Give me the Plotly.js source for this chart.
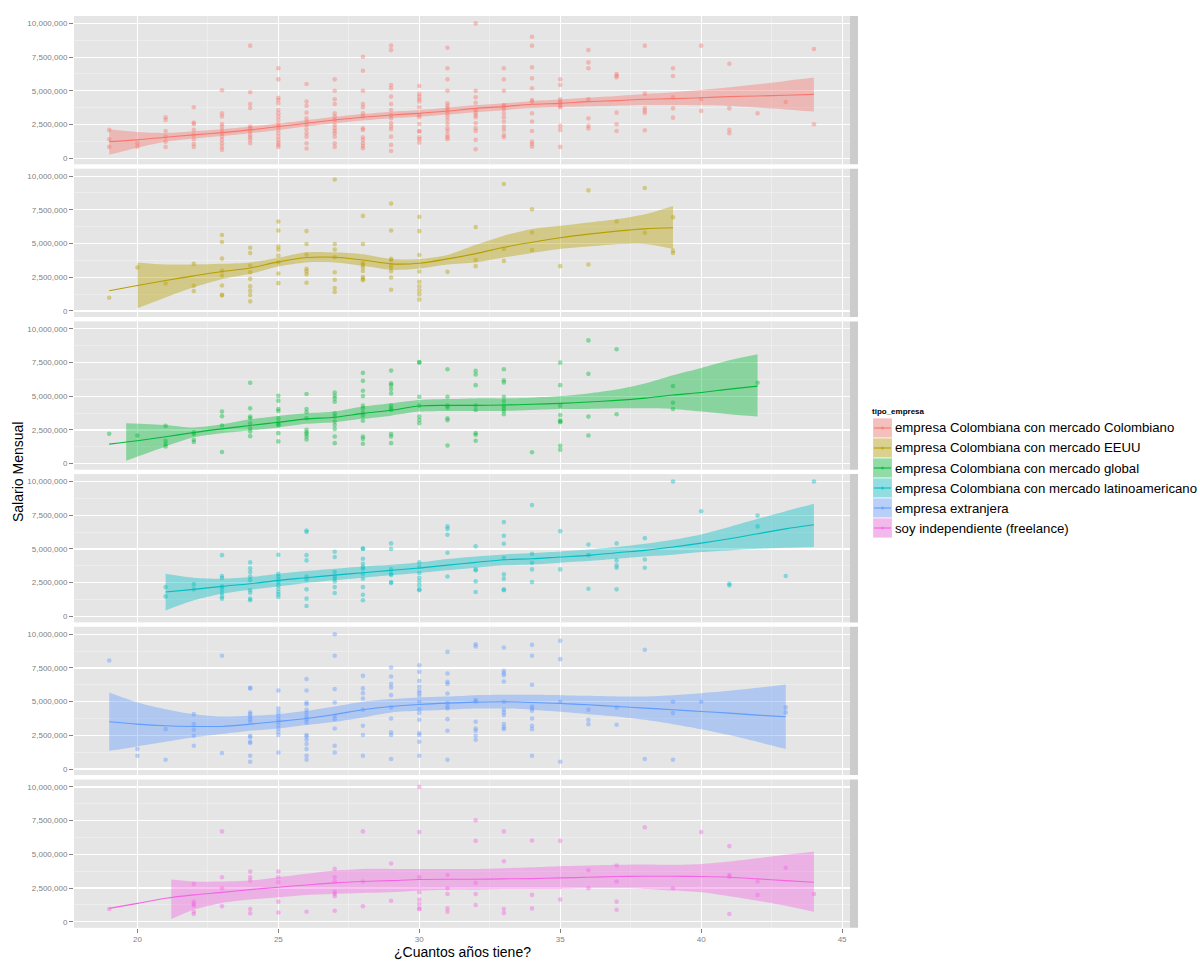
<!DOCTYPE html>
<html>
<head>
<meta charset="utf-8">
<script src="https://cdn.plot.ly/plotly-3.0.1.min.js"></script>
<style>
  html, body { margin: 0; padding: 0; background: #fff; }
  #chart { width: 1200px; height: 967px; }
</style>
</head>
<body>
<div id="chart"></div>
<script>
// salaries in millions of pesos, read per age column
const tipoEmpresa = [
  "empresa Colombiana con mercado Colombiano",
  "empresa Colombiana con mercado EEUU",
  "empresa Colombiana con mercado global",
  "empresa Colombiana con mercado latinoamericano",
  "empresa extranjera",
  "soy independiente (freelance)",
];
const hueColors = ["#F8766D", "#B79F00", "#00BA38", "#00BFC4", "#619CFF", "#F564E3"];

const colombianoPts = [
  [19, [2.1, 1.41, 0.84]],
  [20, [1.1, 0.86]],
  [21, [3.04, 2.84, 2.02, 1.6, 1.23, 0.84]],
  [22, [3.78, 2.64, 2.54, 2.1, 1.73, 1.41, 1.06, 0.84]],
  [23, [5.04, 3.33, 3.09, 2.54, 2.35, 2.1, 1.85, 1.6, 1.36, 1.11, 0.86, 0.62]],
  [24, [8.35, 4.89, 4.02, 3.73, 2.35, 2.22, 1.98, 1.73, 1.56, 1.36, 1.11]],
  [25, [6.67, 5.85, 4.49, 4.32, 4.07, 3.58, 3.33, 3.09, 2.84, 2.54, 2.35, 2.1, 1.85, 1.6, 1.36, 1.16, 0.99, 0.84]],
  [26, [5.51, 4.2, 3.88, 3.38, 2.96, 2.72, 2.47, 2.15, 1.85, 1.6, 1.11, 0.72]],
  [27, [5.85, 5.01, 4.37, 4.02, 3.33, 3.09, 2.84, 2.47, 2.22, 2.02, 1.85, 1.6, 1.11, 0.84]],
  [28, [7.53, 6.49, 5.01, 4.02, 3.78, 3.33, 3.09, 2.22, 2.1, 1.56, 1.36, 1.11, 0.91, 0.74]],
  [29, [8.35, 8.02, 5.43, 5.19, 4.57, 4.02, 3.58, 3.21, 2.96, 2.59, 2.35, 2.15, 1.6, 0.99, 0.54]],
  [30, [5.36, 4.77, 4.57, 4.37, 4.2, 3.78, 3.21, 3.04, 2.54, 2.02, 1.98, 1.56, 1.41, 1.16]],
  [31, [8.2, 6.67, 5.85, 5.01, 4.07, 3.88, 3.7, 3.53, 3.33, 3.09, 2.84, 2.54, 2.22, 2.02, 1.73, 1.56, 1.41]],
  [32, [10.0, 5.01, 4.52, 4.12, 3.58, 3.38, 3.21, 3.04, 2.59, 2.22, 2.02, 1.36, 0.67]],
  [33, [6.67, 5.85, 5.01, 3.95, 3.83, 3.63, 3.33, 3.04, 2.72, 2.35, 2.1, 1.73, 1.56]],
  [34, [9.01, 8.35, 6.74, 5.93, 5.19, 4.32, 4.2, 3.33, 2.72, 2.02, 1.23, 1.06, 0.86]],
  [35, [5.85, 5.43, 4.37, 4.2, 4.07, 3.88, 3.78, 2.4, 2.1, 0.84]],
  [36, [8.02, 7.11, 6.67, 4.37, 2.96, 2.4, 2.2]],
  [37, [6.25, 6.12, 6.0, 3.38, 2.52, 2.02]],
  [38, [8.35, 4.79, 3.7, 3.53, 3.36, 2.07]],
  [39, [6.67, 6.1, 4.52, 3.7, 3.01]],
  [40, [8.35, 4.37, 3.51]],
  [41, [7.01, 3.7, 2.1, 1.85]],
  [42, [3.33]],
  [43, [4.17]],
  [44, [8.1, 2.52]],
];
const colombianoFitAges = [19, 20, 21, 22, 23, 24, 25, 26, 27, 28, 29, 30, 31, 32, 33, 34, 35, 36, 37, 38, 39, 40, 41, 42, 43, 44];
const colombianoFit = [1.23, 1.36, 1.56, 1.73, 1.9, 2.1, 2.35, 2.59, 2.84, 3.04, 3.21, 3.33, 3.5, 3.7, 3.83, 4.0, 4.07, 4.2, 4.27, 4.37, 4.42, 4.49, 4.57, 4.62, 4.67, 4.74];
const colombianoBandAges = colombianoFitAges;
const colombianoHi = [2.15, 1.95, 1.88, 2.0, 2.15, 2.35, 2.58, 2.82, 3.07, 3.28, 3.45, 3.58, 3.75, 3.94, 4.08, 4.25, 4.35, 4.5, 4.62, 4.77, 4.9, 5.06, 5.26, 5.48, 5.73, 5.98];
const colombianoLo = [0.25, 0.78, 1.22, 1.46, 1.65, 1.86, 2.1, 2.36, 2.6, 2.8, 2.97, 3.08, 3.24, 3.42, 3.56, 3.72, 3.8, 3.86, 3.9, 3.95, 3.95, 3.93, 3.88, 3.77, 3.62, 3.46];

const eeuuPts = [
  [19, [0.98]],
  [20, [3.22]],
  [21, [2.04]],
  [22, [3.49, 1.87, 1.47]],
  [23, [5.63, 5.11, 3.88, 2.97, 2.63, 1.89, 1.2, 1.15]],
  [24, [4.69, 4.3, 3.37, 2.87, 2.38, 1.82, 1.5, 1.18, 0.71]],
  [25, [6.63, 5.97, 4.77, 4.55, 4.1, 3.61, 2.78, 2.06]],
  [26, [5.92, 4.96, 4.18, 3.12, 2.95, 2.73, 2.09]],
  [27, [9.75, 4.96, 4.55, 3.98, 2.87, 2.31, 1.7, 1.4]],
  [28, [7.05, 4.96, 3.56, 3.42, 3.24, 2.97, 2.51, 2.38, 2.28]],
  [29, [7.96, 5.97, 3.86, 3.76, 3.39, 3.19, 2.95, 2.48, 1.57]],
  [30, [6.98, 5.92, 4.15, 2.92, 2.16, 1.82, 1.52, 1.23, 0.84]],
  [31, [2.9]],
  [32, [6.22, 3.78, 3.32]],
  [33, [9.41, 4.59, 3.71]],
  [34, [7.54, 5.82, 4.52]],
  [35, [3.32]],
  [36, [8.94, 3.44]],
  [37, [6.63]],
  [38, [9.12, 5.8]],
  [39, [6.95, 4.47, 4.3]],
];
const eeuuFitAges = [19, 20, 21, 22, 23, 24, 25, 26, 27, 28, 29, 30, 31, 32, 33, 34, 35, 36, 37, 38, 39];
const eeuuFit = [1.5, 1.89, 2.26, 2.6, 2.92, 3.19, 3.64, 3.96, 3.98, 3.78, 3.49, 3.54, 3.86, 4.25, 4.72, 5.09, 5.43, 5.7, 5.92, 6.09, 6.17];
const eeuuBandAges = [20, 21, 22, 23, 24, 25, 26, 27, 28, 29, 30, 31, 32, 33, 34, 35, 36, 37, 38, 39];
const eeuuHi = [3.6, 3.45, 3.45, 3.5, 3.6, 3.95, 4.35, 4.35, 4.2, 3.85, 3.85, 4.15, 4.9, 5.58, 6.07, 6.31, 6.56, 6.8, 7.17, 7.79];
const eeuuLo = [0.2, 1.0, 1.75, 2.35, 2.75, 3.3, 3.6, 3.6, 3.35, 3.05, 3.15, 3.45, 3.6, 3.96, 4.3, 4.59, 4.77, 4.94, 4.96, 4.59];

const globalPts = [
  [19, [2.21]],
  [20, [2.09]],
  [21, [2.8, 1.7, 1.45, 1.28]],
  [22, [2.33, 2.19, 1.77, 1.6]],
  [23, [3.86, 3.51, 2.83, 0.86]],
  [24, [6.0, 4.1, 3.49, 3.37, 3.0, 2.63, 2.38, 2.04]],
  [25, [5.04, 4.67, 4.05, 3.9, 3.37, 3.07, 2.92, 2.83, 2.26, 1.65]],
  [26, [5.16, 4.05, 3.81, 3.37, 2.51, 2.33, 2.19, 2.01, 1.79]],
  [27, [5.28, 5.04, 4.84, 4.59, 3.73, 3.49, 3.12, 2.87, 2.56, 2.01, 1.52]],
  [28, [6.73, 6.14, 5.41, 5.01, 4.3, 4.1, 3.78, 3.56, 3.19, 2.01, 1.84, 1.47]],
  [29, [6.9, 5.95, 5.82, 5.53, 5.21, 4.3, 4.1, 3.98, 2.19, 2.01, 1.52]],
  [30, [7.54, 7.49, 4.96, 4.3, 3.49, 3.24, 3.0]],
  [31, [7.0, 4.96, 4.3, 4.15, 3.37, 3.22, 1.35]],
  [32, [6.88, 6.61, 5.82, 4.3, 3.98, 2.26, 2.14, 1.7]],
  [33, [7.0, 6.19, 6.02, 4.96, 4.64, 4.3, 4.1, 3.91, 3.66]],
  [34, [0.84]],
  [35, [7.49, 5.82, 4.3, 3.61, 3.22, 3.12, 3.07, 1.33, 1.03]],
  [36, [9.14, 6.66, 3.49, 2.09]],
  [37, [8.48, 3.66]],
  [39, [5.75, 4.52, 4.05]],
  [42, [6.0]],
];
const globalFitAges = [19, 20, 21, 22, 23, 24, 25, 26, 27, 28, 29, 30, 31, 32, 33, 34, 35, 36, 37, 38, 39, 40, 41, 42];
const globalFit = [1.45, 1.7, 1.99, 2.31, 2.58, 2.83, 3.07, 3.32, 3.44, 3.73, 3.96, 4.28, 4.32, 4.32, 4.35, 4.4, 4.47, 4.57, 4.69, 4.86, 5.09, 5.28, 5.53, 5.75];
const globalBandAges = [19.6, 21, 22, 23, 24, 25, 26, 27, 28, 29, 30, 31, 32, 33, 34, 35, 36, 37, 38, 39, 40, 41, 42];
const globalHi = [3.0, 2.87, 2.68, 2.92, 3.29, 3.54, 3.73, 3.86, 4.23, 4.47, 4.72, 4.79, 4.84, 4.84, 4.89, 5.01, 5.21, 5.5, 5.95, 6.56, 7.1, 7.67, 8.11];
const globalLo = [0.22, 1.28, 1.95, 2.25, 2.45, 2.68, 2.95, 3.07, 3.32, 3.56, 3.86, 3.91, 3.91, 3.91, 3.98, 4.05, 4.05, 4.1, 4.1, 4.05, 3.86, 3.66, 3.49];

const latinoPts = [
  [21, [2.17, 1.48]],
  [22, [2.37, 2.0]],
  [23, [4.54, 2.99, 2.84, 2.22, 2.0, 1.73, 1.48, 1.31]],
  [24, [4.0, 3.56, 3.28, 2.96, 2.67, 1.93, 1.75, 1.31, 1.19]],
  [25, [4.57, 3.16, 2.96, 2.74, 2.54, 2.3, 2.05, 1.8, 1.63, 1.43]],
  [26, [6.37, 6.25, 4.54, 4.15, 2.96, 2.74, 2.0, 1.31, 0.77]],
  [27, [4.79, 4.4, 3.28, 2.96, 2.79, 2.59, 2.17, 1.73]],
  [28, [5.04, 4.99, 4.27, 3.9, 3.65, 3.53, 3.16, 2.79, 2.17, 1.6, 1.19]],
  [29, [5.41, 4.99, 3.48, 3.16, 3.06, 2.54, 2.47]],
  [30, [4.0, 3.65, 3.21, 2.86, 2.59, 2.3, 2.0, 1.93]],
  [31, [6.67, 6.49, 6.05, 4.72, 2.96]],
  [32, [5.19, 3.48, 3.41, 2.59, 1.8]],
  [33, [6.99, 5.98, 5.38, 4.35, 3.11, 2.79, 2.0, 1.93]],
  [34, [8.25, 4.64, 3.98, 3.48, 2.54]],
  [35, [6.32, 3.48]],
  [36, [5.33, 4.54, 2.05]],
  [37, [5.41, 4.15, 3.78, 3.6, 2.0]],
  [38, [5.8, 4.22, 3.6]],
  [39, [10.0]],
  [40, [7.8]],
  [41, [2.42, 2.3]],
  [42, [7.48, 6.67]],
  [43, [2.99]],
  [44, [10.0]],
];
const latinoFitAges = [21, 22, 23, 24, 25, 26, 27, 28, 29, 30, 31, 32, 33, 34, 35, 36, 37, 38, 39, 40, 41, 42, 43, 44];
const latinoFit = [1.8, 2.0, 2.22, 2.42, 2.67, 2.86, 3.06, 3.23, 3.41, 3.58, 3.8, 4.0, 4.2, 4.27, 4.4, 4.52, 4.72, 4.89, 5.14, 5.43, 5.75, 6.12, 6.49, 6.79];
const latinoBandAges = latinoFitAges;
const latinoHi = [3.16, 2.86, 2.79, 2.91, 3.16, 3.36, 3.53, 3.7, 3.83, 4.0, 4.25, 4.44, 4.59, 4.69, 4.81, 4.96, 5.14, 5.38, 5.68, 6.07, 6.62, 7.23, 7.8, 8.35];
const latinoLo = [0.44, 1.19, 1.68, 1.98, 2.22, 2.47, 2.67, 2.86, 3.04, 3.21, 3.41, 3.6, 3.78, 3.85, 3.98, 4.1, 4.27, 4.44, 4.57, 4.77, 4.89, 5.01, 5.09, 5.14];

const extranjeraPts = [
  [19, [8.05]],
  [20, [1.48, 0.99]],
  [21, [2.96, 0.69]],
  [22, [4.07, 3.33, 2.91, 2.47, 1.73]],
  [23, [8.4, 1.19]],
  [24, [6.02, 5.98, 4.2, 4.07, 3.88, 3.7, 3.51, 2.47, 2.35, 2.02, 1.93, 0.99, 0.54]],
  [25, [5.83, 4.49, 4.2, 3.95, 3.7, 3.51, 3.26, 3.01, 2.77, 2.52, 1.23]],
  [26, [6.67, 5.83, 4.94, 4.81, 4.4, 4.15, 3.88, 3.7, 3.46, 2.52, 2.42, 2.17, 1.85, 1.48, 0.99, 0.69]],
  [27, [10.0, 8.4, 5.93, 4.94, 3.95, 3.7, 3.01, 1.73, 1.23]],
  [28, [6.91, 5.98, 5.63, 5.23, 4.4, 3.21, 2.52, 0.99]],
  [29, [7.53, 6.86, 6.3, 6.05, 5.48, 4.57, 3.75, 2.72, 2.52, 0.74]],
  [30, [7.7, 7.21, 6.54, 6.1, 5.8, 5.63, 5.43, 4.99, 4.44, 4.15, 3.65, 2.67, 2.52, 2.02, 0.99]],
  [31, [8.69, 7.09, 6.47, 6.32, 5.6, 4.89, 4.64, 4.49, 3.7, 2.84, 0.69]],
  [32, [9.26, 9.09, 5.11, 5.01, 3.51, 3.01, 2.84, 2.47, 2.17]],
  [33, [9.01, 7.28, 7.11, 6.96, 6.49, 4.99, 4.4, 4.2, 4.0, 3.33, 3.09, 2.96]],
  [34, [9.21, 8.4, 6.25, 4.64, 4.49, 4.32, 3.75, 3.21, 2.96, 0.99]],
  [35, [9.51, 8.15, 4.99, 0.54]],
  [36, [4.4, 3.65, 3.33]],
  [37, [4.57, 3.28]],
  [38, [8.84, 0.74]],
  [39, [4.99, 4.15, 0.69]],
  [40, [4.99]],
  [43, [4.57, 4.2]],
];
const extranjeraFitAges = [19, 20, 21, 22, 23, 24, 25, 26, 27, 28, 29, 30, 31, 32, 33, 34, 35, 36, 37, 38, 39, 40, 41, 42, 43];
const extranjeraFit = [3.51, 3.33, 3.21, 3.16, 3.16, 3.33, 3.53, 3.75, 4.05, 4.4, 4.64, 4.79, 4.89, 4.96, 4.99, 4.94, 4.86, 4.77, 4.64, 4.52, 4.4, 4.27, 4.15, 4.0, 3.88];
const extranjeraBandAges = extranjeraFitAges;
const extranjeraHi = [5.68, 4.94, 4.44, 4.07, 3.9, 3.95, 4.07, 4.32, 4.64, 4.99, 5.19, 5.31, 5.38, 5.48, 5.51, 5.51, 5.48, 5.43, 5.38, 5.38, 5.48, 5.63, 5.8, 6.02, 6.27];
const extranjeraLo = [1.36, 1.68, 2.02, 2.35, 2.59, 2.84, 3.01, 3.26, 3.51, 3.83, 4.2, 4.32, 4.4, 4.49, 4.49, 4.4, 4.25, 4.07, 3.9, 3.65, 3.33, 2.96, 2.52, 2.02, 1.48];

const freelancePts = [
  [19, [0.94]],
  [22, [2.8, 1.49, 1.32, 1.19, 0.74, 0.57]],
  [23, [6.7, 3.3, 2.48, 1.14]],
  [24, [3.72, 3.3, 3.05, 0.94, 0.62]],
  [25, [3.72, 3.3, 2.93, 1.49, 0.69]],
  [26, [0.74]],
  [27, [3.92, 3.3, 2.98, 2.23, 2.06, 1.89, 0.82]],
  [28, [6.7, 2.98, 1.14]],
  [29, [4.32, 1.56]],
  [30, [10.0, 6.65, 3.3, 2.18, 1.64, 1.32, 0.99, 0.94]],
  [31, [3.47, 2.48, 2.06, 0.99, 0.74]],
  [32, [7.52, 6.0, 2.88, 2.06, 1.24]],
  [33, [6.7, 4.49, 0.94, 0.65]],
  [34, [6.03, 1.99, 0.99]],
  [35, [6.0, 1.64]],
  [36, [3.82, 2.48]],
  [37, [4.17, 2.98, 1.49, 0.89]],
  [38, [7.0]],
  [39, [2.48]],
  [40, [6.65]],
  [41, [5.61, 3.47, 3.33, 0.57]],
  [42, [2.98, 1.99]],
  [43, [4.0]],
  [44, [2.06]],
];
const freelanceFitAges = [19, 20, 21, 22, 23, 24, 25, 26, 27, 28, 29, 30, 31, 32, 33, 34, 35, 36, 37, 38, 39, 40, 41, 42, 43, 44];
const freelanceFit = [0.99, 1.36, 1.74, 1.99, 2.18, 2.38, 2.56, 2.73, 2.88, 2.98, 3.05, 3.13, 3.15, 3.15, 3.18, 3.2, 3.25, 3.3, 3.35, 3.37, 3.37, 3.35, 3.3, 3.18, 3.05, 2.93];
const freelanceBandAges = [21.2, 22, 23, 24, 25, 26, 27, 28, 29, 30, 31, 32, 33, 34, 35, 36, 37, 38, 39, 40, 41, 42, 43, 44];
const freelanceHi = [3.13, 2.98, 2.98, 3.05, 3.3, 3.55, 3.8, 3.92, 3.92, 3.92, 3.92, 3.92, 3.97, 4.04, 4.12, 4.17, 4.22, 4.24, 4.22, 4.29, 4.47, 4.71, 4.96, 5.21];
const freelanceLo = [0.2, 0.89, 1.39, 1.64, 1.81, 1.99, 2.06, 2.13, 2.18, 2.31, 2.38, 2.38, 2.43, 2.43, 2.43, 2.48, 2.48, 2.43, 2.31, 2.18, 1.89, 1.56, 1.19, 0.74];

const groups = [
  { pts: colombianoPts, fitAges: colombianoFitAges, fit: colombianoFit, bandAges: colombianoBandAges, hi: colombianoHi, lo: colombianoLo },
  { pts: eeuuPts, fitAges: eeuuFitAges, fit: eeuuFit, bandAges: eeuuBandAges, hi: eeuuHi, lo: eeuuLo },
  { pts: globalPts, fitAges: globalFitAges, fit: globalFit, bandAges: globalBandAges, hi: globalHi, lo: globalLo },
  { pts: latinoPts, fitAges: latinoFitAges, fit: latinoFit, bandAges: latinoBandAges, hi: latinoHi, lo: latinoLo },
  { pts: extranjeraPts, fitAges: extranjeraFitAges, fit: extranjeraFit, bandAges: extranjeraBandAges, hi: extranjeraHi, lo: extranjeraLo },
  { pts: freelancePts, fitAges: freelanceFitAges, fit: freelanceFit, bandAges: freelanceBandAges, hi: freelanceHi, lo: freelanceLo },
];

const W = 1200;
const H = 967;
const PANEL_LEFT = 74;
const PANEL_RIGHT = 850;
const STRIP_RIGHT = 858;
const PANEL_TOPS = [16, 168.7, 321.4, 474.1, 626.8, 779.5];
const PANEL_H = 148.3;
const MILLION = 1e6;
const FONT = "Liberation Sans, Arial, Helvetica, sans-serif";
const GREY_TEXT = "#7F7F7F";

function rgba(hex, a) {
  const n = parseInt(hex.slice(1), 16);
  return `rgba(${(n >> 16) & 255},${(n >> 8) & 255},${n & 255},${a})`;
}

function toMillions(list) {
  return list.map((v) => v * MILLION);
}

function buildTraces(group, i) {
  const color = hueColors[i];
  const suffix = i === 0 ? "" : String(i + 1);
  const axes = { xaxis: "x" + suffix, yaxis: "y" + suffix };
  const px = [];
  const py = [];
  group.pts.forEach(([age, values]) => {
    values.forEach((v) => {
      px.push(age);
      py.push(v * MILLION);
    });
  });
  return [
    {
      ...axes, type: "scatter", mode: "markers", x: px, y: py,
      marker: { size: 4.6, color: rgba(color, 0.42), line: { width: 0 } },
      hoverinfo: "skip", showlegend: false,
    },
    {
      ...axes, type: "scatter", mode: "lines", x: group.bandAges, y: toMillions(group.lo),
      line: { width: 0, shape: "spline", smoothing: 0.8 }, hoverinfo: "skip", showlegend: false,
    },
    {
      ...axes, type: "scatter", mode: "lines", x: group.bandAges, y: toMillions(group.hi),
      fill: "tonexty", fillcolor: rgba(color, 0.4),
      line: { width: 0, shape: "spline", smoothing: 0.8 }, hoverinfo: "skip", showlegend: false,
    },
    {
      ...axes, type: "scatter", mode: "lines", x: group.fitAges, y: toMillions(group.fit),
      line: { color, width: 1.1, shape: "spline", smoothing: 0.8 }, hoverinfo: "skip", showlegend: false,
    },
  ];
}

const data = groups.flatMap(buildTraces);

const layout = {
  width: W,
  height: H,
  margin: { l: 0, r: 0, t: 0, b: 0 },
  paper_bgcolor: "#FFFFFF",
  plot_bgcolor: "#E5E5E5",
  font: { family: FONT, color: "#000" },
  showlegend: false,
  shapes: [],
  annotations: [],
};

PANEL_TOPS.forEach((top, i) => {
  const suffix = i === 0 ? "" : String(i + 1);
  const isBottom = i === PANEL_TOPS.length - 1;
  const yDomain = [1 - (top + PANEL_H) / H, 1 - top / H];
  layout["xaxis" + suffix] = {
    domain: [PANEL_LEFT / W, PANEL_RIGHT / W],
    range: [17.75, 45.28],
    anchor: "y" + suffix,
    tick0: 0, dtick: 5,
    showgrid: true, gridcolor: "#FFFFFF", gridwidth: 1.2,
    minor: { tick0: 0, dtick: 2.5, showgrid: true, gridcolor: "#F2F2F2", gridwidth: 0.6, ticks: "" },
    zeroline: false, showline: false,
    showticklabels: isBottom,
    ticks: isBottom ? "outside" : "", ticklen: 4, tickwidth: 1, tickcolor: GREY_TEXT,
    tickfont: { family: FONT, size: 8, color: GREY_TEXT },
    fixedrange: true,
  };
  layout["yaxis" + suffix] = {
    domain: yDomain,
    range: [-0.45 * MILLION, 10.55 * MILLION],
    anchor: "x" + suffix,
    tick0: 0, dtick: 2.5 * MILLION, tickformat: ",",
    showgrid: true, gridcolor: "#FFFFFF", gridwidth: 1.2,
    minor: { tick0: 0, dtick: 1.25 * MILLION, showgrid: true, gridcolor: "#F2F2F2", gridwidth: 0.6, ticks: "" },
    zeroline: false, showline: false,
    ticks: "outside", ticklen: 4, tickwidth: 1, tickcolor: GREY_TEXT,
    tickfont: { family: FONT, size: 8, color: GREY_TEXT },
    fixedrange: true,
  };
  // empty facet strip on the right of each panel
  layout.shapes.push({
    type: "rect", xref: "paper", yref: "paper", layer: "below",
    x0: PANEL_RIGHT / W, x1: STRIP_RIGHT / W, y0: yDomain[0], y1: yDomain[1],
    fillcolor: "#CCCCCC", line: { width: 0 },
  });
});

layout.annotations.push(
  {
    xref: "paper", yref: "paper", x: (PANEL_LEFT + PANEL_RIGHT) / 2 / W, y: 1 - 952 / H,
    text: "¿Cuantos años tiene?", showarrow: false, xanchor: "center", yanchor: "middle",
    font: { family: FONT, size: 14, color: "#000" },
  },
  {
    xref: "paper", yref: "paper", x: 18 / W, y: 1 - 472 / H,
    text: "Salario Mensual", showarrow: false, textangle: -90, xanchor: "center", yanchor: "middle",
    font: { family: FONT, size: 14, color: "#000" },
  },
  {
    xref: "paper", yref: "paper", x: 870 / W, y: 1 - 411 / H,
    text: "<b>tipo_empresa</b>", showarrow: false, xanchor: "left", yanchor: "middle",
    font: { family: FONT, size: 8, color: "#000" },
  }
);

// legend keys drawn by hand, ggplot style: fill box, line and point
tipoEmpresa.forEach((name, i) => {
  const cy = 428 + 20 * i;
  const y0 = 1 - (cy + 9.7) / H;
  const y1 = 1 - (cy - 9.7) / H;
  const x0 = 873 / W;
  const x1 = 892 / W;
  layout.shapes.push(
    { type: "rect", xref: "paper", yref: "paper", x0, x1, y0, y1, fillcolor: "#F2F2F2", line: { color: "#FFFFFF", width: 1 } },
    { type: "rect", xref: "paper", yref: "paper", x0, x1, y0, y1, fillcolor: rgba(hueColors[i], 0.4), line: { width: 0 } },
    { type: "line", xref: "paper", yref: "paper", x0: 874 / W, x1: 891 / W, y0: 1 - cy / H, y1: 1 - cy / H, line: { color: hueColors[i], width: 1.1 } },
    { type: "circle", xref: "paper", yref: "paper", x0: 881 / W, x1: 884 / W, y0: 1 - (cy + 1.5) / H, y1: 1 - (cy - 1.5) / H, fillcolor: rgba(hueColors[i], 0.6), line: { width: 0 } }
  );
  layout.annotations.push({
    xref: "paper", yref: "paper", x: 893 / W, y: 1 - cy / H,
    text: name, showarrow: false, xanchor: "left", yanchor: "middle",
    font: { family: FONT, size: 13.2, color: "#000" },
  });
});

Plotly.newPlot("chart", data, layout, { displayModeBar: false, staticPlot: true });
</script>
</body>
</html>
